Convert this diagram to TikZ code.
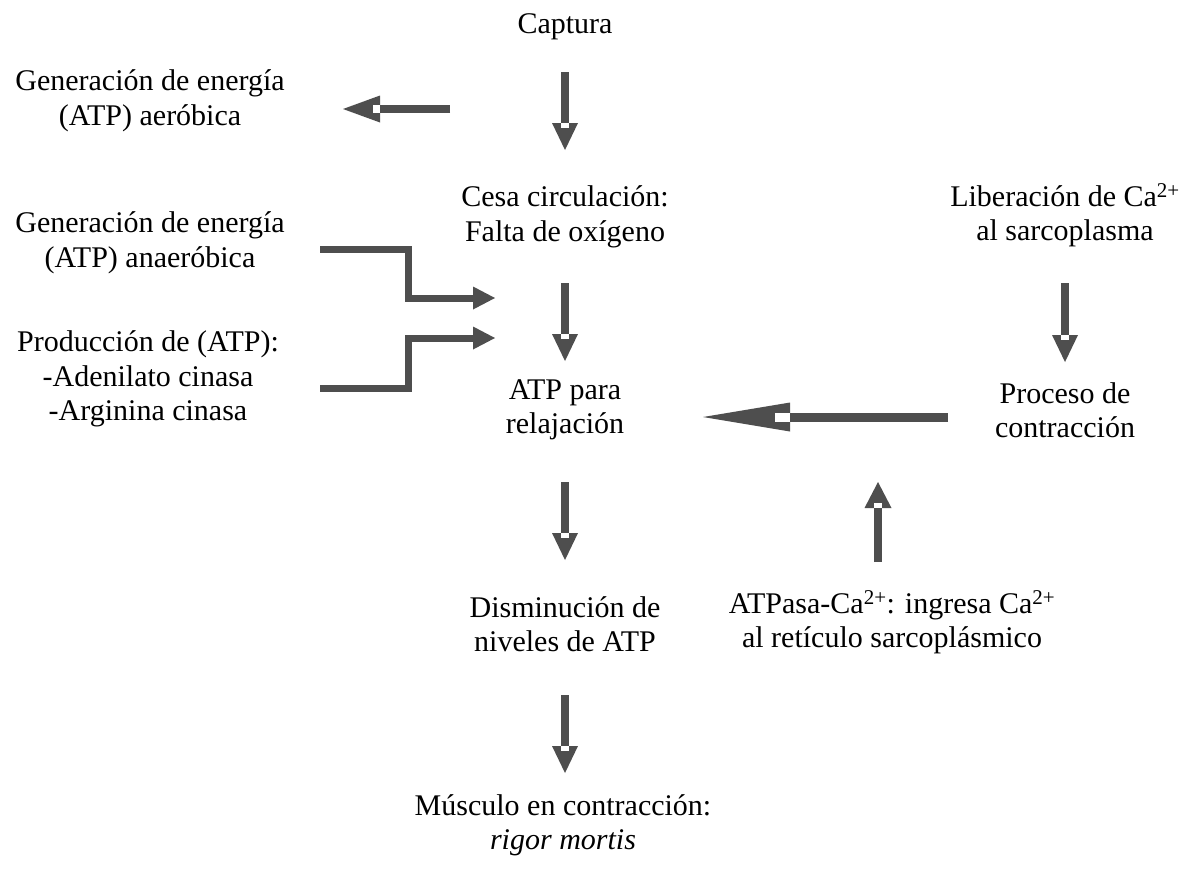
\documentclass[tikz,border=0pt]{standalone}
\usepackage{fontspec}
\setmainfont{Liberation Serif}
\usetikzlibrary{arrows.meta,decorations.markings}
\definecolor{ag}{RGB}{78,78,78}
\tikzset{
  lbl/.style={align=center, inner sep=0pt, font=\fontsize{30}{34.5}\selectfont},
  fat/.style n args={4}{color=ag, line width=#1*1pt,
    -{Triangle[length=#2*1pt, width=#3*1pt, line width=0pt]},
    postaction={decorate, decoration={markings,
      mark=at position 1 with {\fill[white] ({-#2*1pt},{-#1*0.5pt}) rectangle ++({#4*1pt},{#1*1pt});}}}},
  vdn/.style={fat={8}{27}{26}{5}},
  brk/.style={color=ag, line width=7pt, line join=miter,
    -{Triangle[length=22pt, width=23pt, line width=0pt]}}
}
\begin{document}
\begin{tikzpicture}[x=1pt,y=-1pt]
\useasboundingbox (0,0) rectangle (1193,868);
% nodes
\node[lbl, anchor=base] (captura) at (565,33) {Captura};
\node[lbl] (aerob) at (150,101) {Generación de energía\\(ATP) aeróbica};
\node[lbl] (anaer) at (150,243) {Generación de energía\\(ATP) anaeróbica};
\node[lbl] (prod) at (148,379) {Producción de (ATP):\\-Adenilato cinasa\\-Arginina cinasa};
\node[lbl] (cesa) at (565,217) {Cesa circulación:\\Falta de oxígeno};
\node[lbl] (lib) at (1065,215) {Liberación de Ca\textsuperscript{2+}\\al sarcoplasma};
\node[lbl] (atp) at (565,410) {ATP para\\relajación};
\node[lbl] (proc) at (1065,410) {Proceso de\\contracción};
\node[lbl] (dism) at (565,624) {Disminución de\\niveles de ATP};
\node[lbl] (atpasa) at (892,622) {ATPasa-Ca\textsuperscript{2+}: ingresa Ca\textsuperscript{2+}\\al retículo sarcoplásmico};
\node[lbl] (musc) at (563,825) {Músculo en contracción:\\\textit{rigor mortis}};
% connector end points
\coordinate (aerobTip) at (343,109);
\coordinate (aerobTail) at (450,109);
\coordinate (anaerTail) at (320,249);
\coordinate (anaerTip) at (495,298);
\coordinate (prodTail) at (320,388);
\coordinate (prodTip) at (495,338);
\coordinate (procTail) at (948,417);
\coordinate (procTip) at (703,417);
\coordinate (atpasaTail) at (878,562);
\coordinate (atpasaTip) at (878,482);
% connectors
\draw[vdn] (captura |- 0,72) -- (captura |- 0,150);
\draw[fat={8}{37}{27}{7}] (aerobTail) -- (aerobTip);
\draw[vdn] (cesa |- 0,283) -- (cesa |- 0,361);
\draw[vdn] (atp |- 0,482) -- (atp |- 0,560);
\draw[vdn] (dism |- 0,695) -- (dism |- 0,773);
\draw[vdn] (lib |- 0,283) -- (lib |- 0,362);
\draw[fat={9}{87}{29}{15}] (procTail) -- (procTip);
\draw[fat={8}{26}{27}{5}] (atpasaTail) -- (atpasaTip);
\draw[brk] (anaerTail) -| (408,298) -- (anaerTip);
\draw[brk] (prodTail) -| (408,338) -- (prodTip);
\end{tikzpicture}
\end{document}
